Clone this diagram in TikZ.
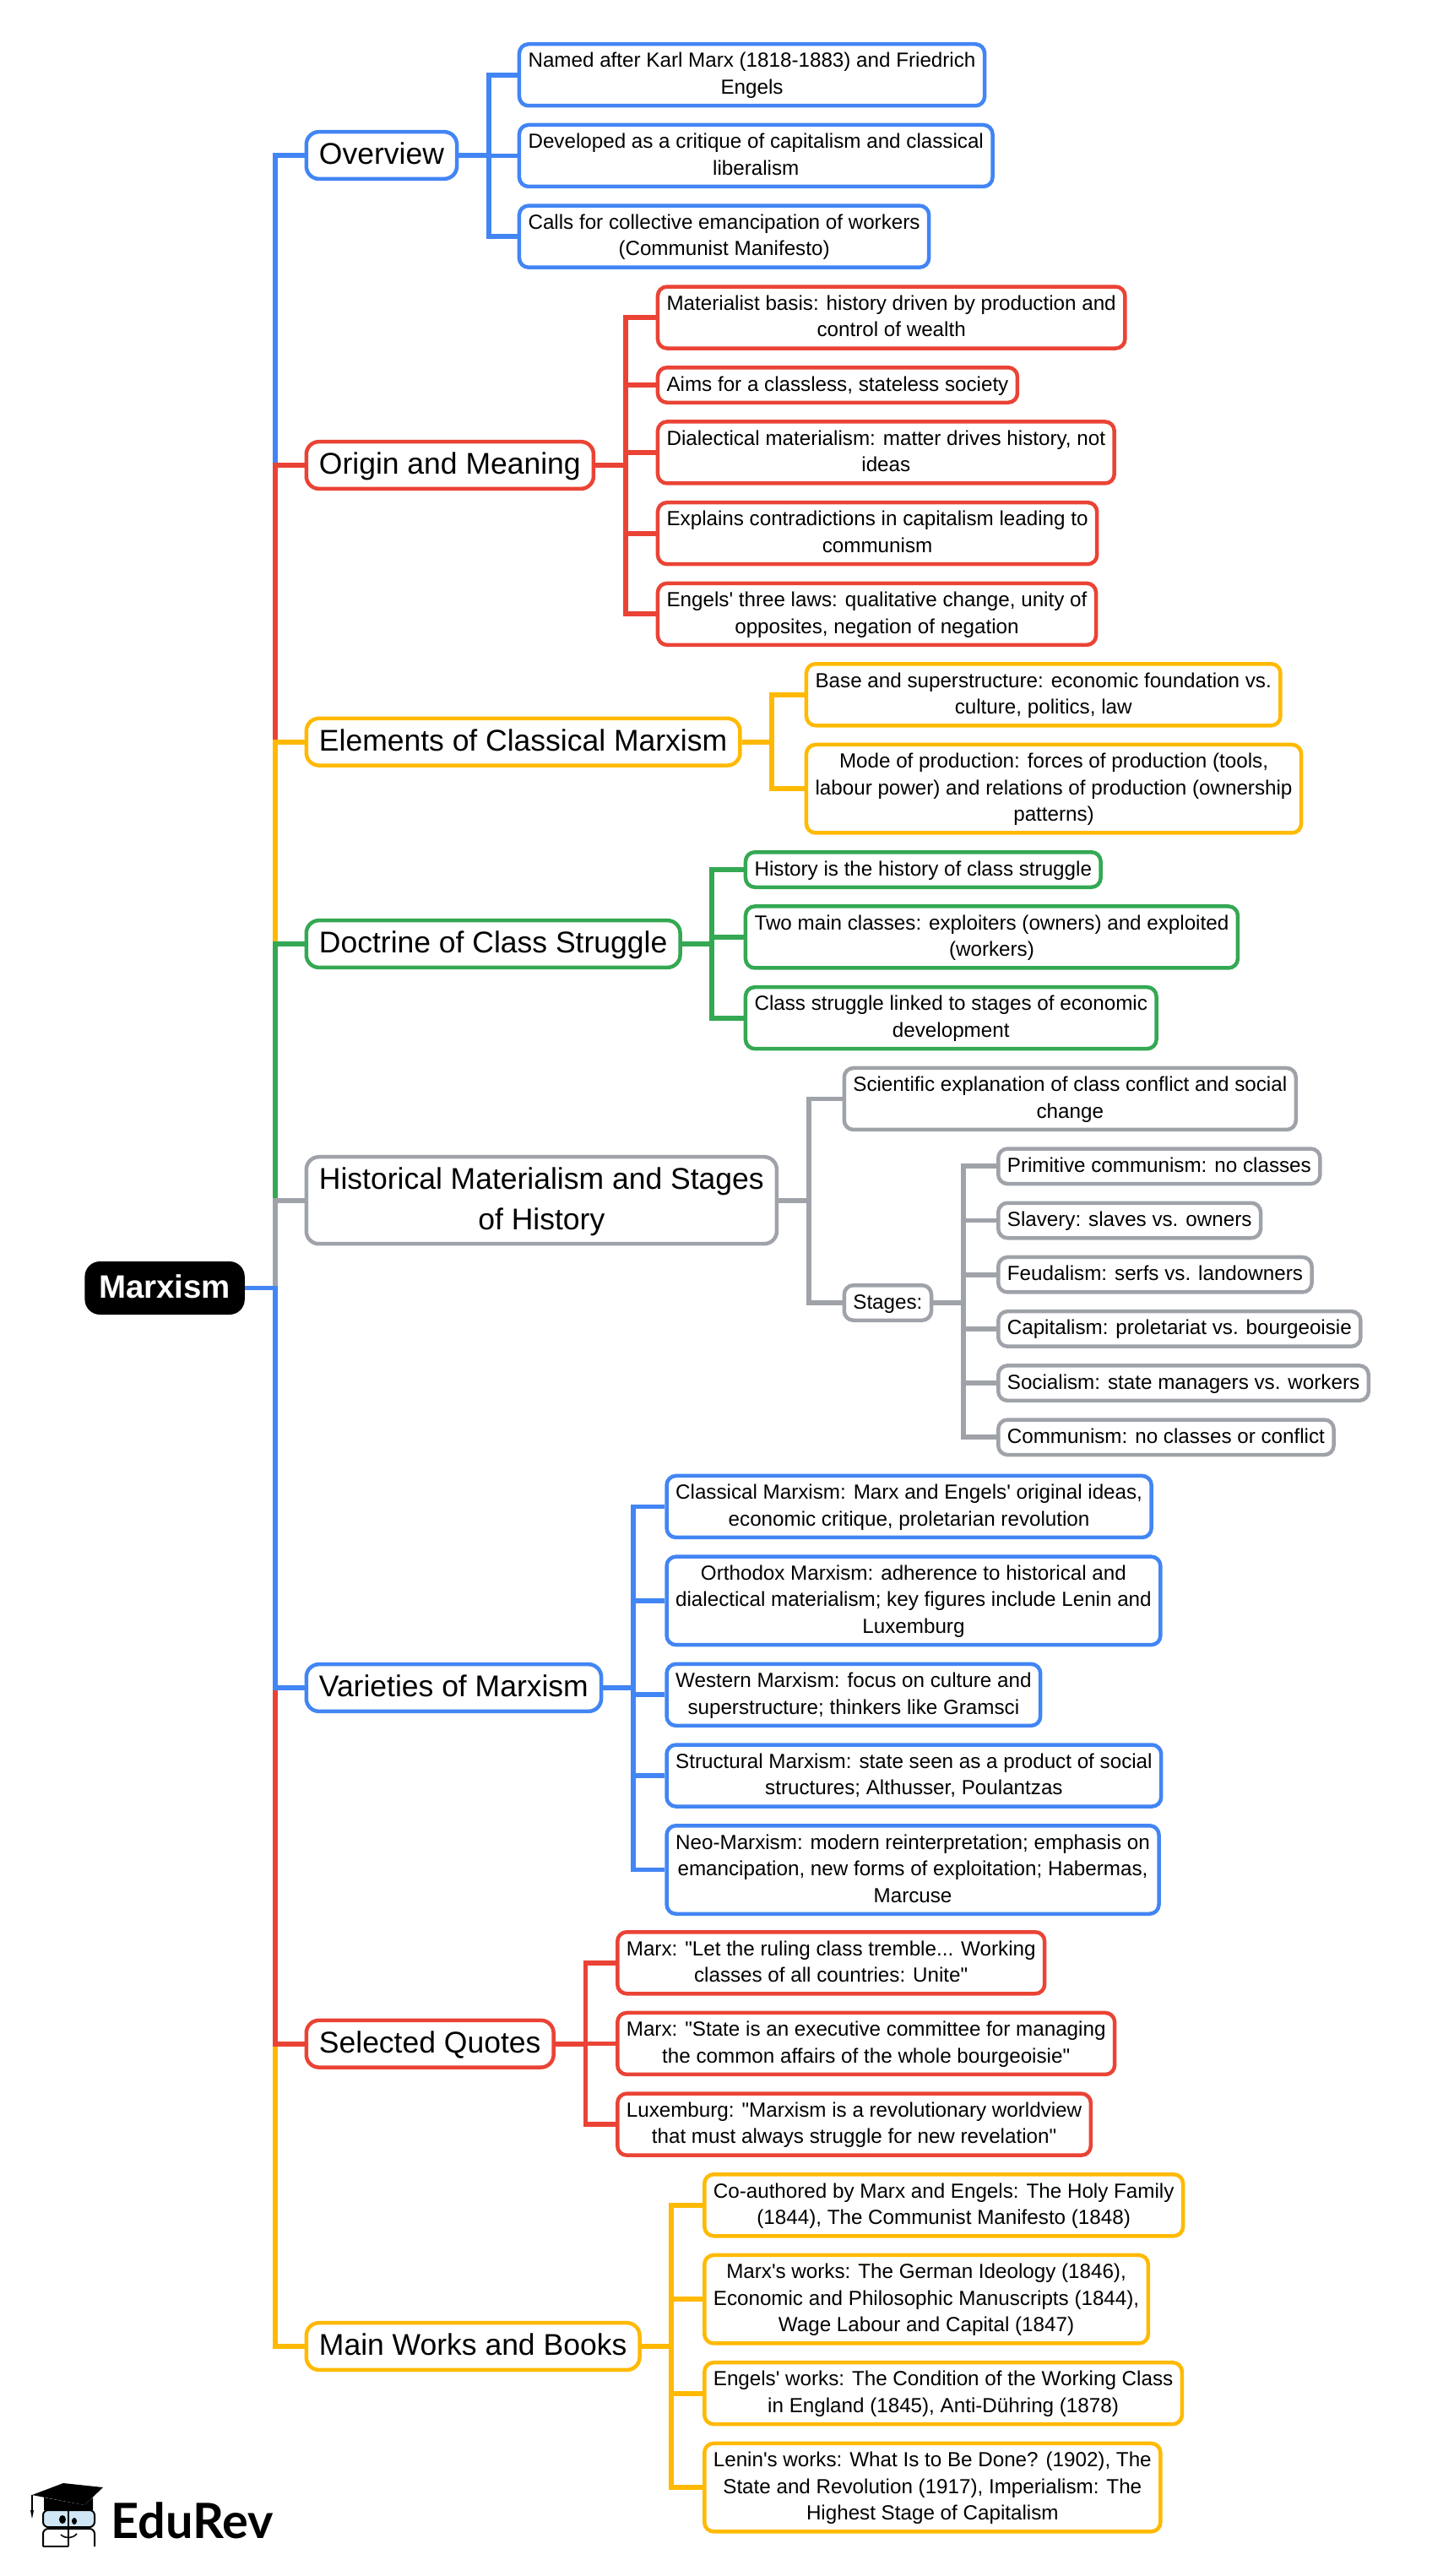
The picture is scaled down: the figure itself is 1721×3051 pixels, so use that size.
\documentclass[tikz,border=0pt]{standalone}
\usepackage{fontspec}
\usepackage{xcolor}
\usetikzlibrary{positioning}
\newfontfamily\mapfont{Liberation Sans}
\newfontfamily\logofont{Lato}
\definecolor{colorB}{HTML}{4285F4}
\definecolor{colorR}{HTML}{EA4335}
\definecolor{colorY}{HTML}{FFB900}
\definecolor{colorG}{HTML}{34A853}
\definecolor{colorN}{HTML}{9FA3A9}
\definecolor{colorGlass}{HTML}{CFE6F6}

\begin{document}
\begin{tikzpicture}[x=0.5pt,y=-0.5pt,node distance=9.1pt,align=center,
  box/.style={draw,rounded corners=5.5pt,line width=2.25pt,fill=white,text=black,inner ysep=2.125pt,inner xsep=5.3pt,anchor=north west,font=\mapfont\fontsize{12.1}{15.75}\selectfont,text height=11.75pt,text depth=4.75pt},
  two/.style={text height=27.5pt},
  three/.style={text height=43.25pt},
  topic/.style={draw,rounded corners=7.5pt,line width=2.25pt,fill=white,text=black,inner ysep=3.125pt,inner xsep=7.6pt,anchor=west,font=\mapfont\fontsize{17.75}{23.65}\selectfont,text height=16.25pt,text depth=5.35pt},
  root/.style={fill=black,text=white,rounded corners=9pt,inner ysep=3pt,inner xsep=8.4pt,anchor=west,font=\mapfont\bfseries\fontsize{19.2}{23.65}\selectfont,text height=18.85pt,text depth=6.65pt},
  under/.style={below=of #1.south west,anchor=north west},
  wire/.style={line width=2.9pt},
  elbow/.style={to path={-- ++(17.8pt,0) |- (\tikztotarget)}},
  ]
  \useasboundingbox (0,0) rectangle (1721,3051);

  % centre and first level
  \node [root] (M) at (100,1525.5) {Marxism};
  \node [topic, draw=colorB] (Ov) at (360.5,184) {Overview};
  \node [topic, draw=colorR] (Or) at (360.5,551) {Origin and Meaning};
  \node [topic, draw=colorY] (El) at (360.5,878.7) {Elements of Classical Marxism};
  \node [topic, draw=colorG] (Dc) at (360.5,1118) {Doctrine of Class Struggle};
  \node [topic, draw=colorN, text height=39.9pt] (Hm) at (360.5,1421.7) {Historical Materialism and Stages\\of History};
  \node [topic, draw=colorB] (Va) at (360.5,1999) {Varieties of Marxism};
  \node [topic, draw=colorR] (Qu) at (360.5,2420.7) {Selected Quotes};
  \node [topic, draw=colorY] (Wk) at (360.5,2779) {Main Works and Books};

  % overview
  \node [box, two, draw=colorB] (Ov1) at (612.7,50) {Named after Karl Marx (1818-1883) and Friedrich\\Engels};
  \node [box, two, draw=colorB, under=Ov1] (Ov2) {Developed as a critique of capitalism and classical\\liberalism};
  \node [box, two, draw=colorB, under=Ov2] (Ov3) {Calls for collective emancipation of workers\\(Communist Manifesto)};

  % origin
  \node [box, two, draw=colorR] (Or1) at (776.7,337.3) {Materialist basis: history driven by production and\\control of wealth};
  \node [box, draw=colorR, under=Or1] (Or2) {Aims for a classless, stateless society};
  \node [box, two, draw=colorR, under=Or2] (Or3) {Dialectical materialism: matter drives history, not\\ideas};
  \node [box, two, draw=colorR, under=Or3] (Or4) {Explains contradictions in capitalism leading to\\communism};
  \node [box, two, draw=colorR, under=Or4] (Or5) {Engels' three laws: qualitative change, unity of\\opposites, negation of negation};

  % elements
  \node [box, two, draw=colorY] (El1) at (952.7,784) {Base and superstructure: economic foundation vs.\\culture, politics, law};
  \node [box, three, draw=colorY, under=El1] (El2) {Mode of production: forces of production (tools,\\labour power) and relations of production (ownership\\patterns)};

  % doctrine
  \node [box, draw=colorG] (Dc1) at (880.7,1007) {History is the history of class struggle};
  \node [box, two, draw=colorG, under=Dc1] (Dc2) {Two main classes: exploiters (owners) and exploited\\(workers)};
  \node [box, two, draw=colorG, under=Dc2] (Dc3) {Class struggle linked to stages of economic\\development};

  % historical materialism
  \node [box, two, draw=colorN] (Hm1) at (997.5,1262.7) {Scientific explanation of class conflict and social\\change};
  \node [box, draw=colorN] (Hm2) at (997.5,1520) {Stages:};
  \node [box, draw=colorN] (St1) at (1180,1358.3) {Primitive communism: no classes};
  \node [box, draw=colorN, under=St1] (St2) {Slavery: slaves vs. owners};
  \node [box, draw=colorN, under=St2] (St3) {Feudalism: serfs vs. landowners};
  \node [box, draw=colorN, under=St3] (St4) {Capitalism: proletariat vs. bourgeoisie};
  \node [box, draw=colorN, under=St4] (St5) {Socialism: state managers vs. workers};
  \node [box, draw=colorN, under=St5] (St6) {Communism: no classes or conflict};

  % varieties
  \node [box, two, draw=colorB] (Va1) at (787.3,1745.7) {Classical Marxism: Marx and Engels' original ideas,\\economic critique, proletarian revolution};
  \node [box, three, draw=colorB, under=Va1] (Va2) {Orthodox Marxism: adherence to historical and\\dialectical materialism; key figures include Lenin and\\Luxemburg};
  \node [box, two, draw=colorB, under=Va2] (Va3) {Western Marxism: focus on culture and\\superstructure; thinkers like Gramsci};
  \node [box, two, draw=colorB, under=Va3] (Va4) {Structural Marxism: state seen as a product of social\\structures; Althusser, Poulantzas};
  \node [box, three, draw=colorB, under=Va4] (Va5) {Neo-Marxism: modern reinterpretation; emphasis on\\emancipation, new forms of exploitation; Habermas,\\Marcuse};

  % quotes
  \node [box, two, draw=colorR] (Qu1) at (729,2286) {Marx: "Let the ruling class tremble... Working\\classes of all countries: Unite"};
  \node [box, two, draw=colorR, under=Qu1] (Qu2) {Marx: "State is an executive committee for managing\\the common affairs of the whole bourgeoisie"};
  \node [box, two, draw=colorR, under=Qu2] (Qu3) {Luxemburg: "Marxism is a revolutionary worldview\\that must always struggle for new revelation"};

  % works
  \node [box, two, draw=colorY] (Wk1) at (832,2573) {Co-authored by Marx and Engels: The Holy Family\\(1844), The Communist Manifesto (1848)};
  \node [box, three, draw=colorY, under=Wk1] (Wk2) {Marx's works: The German Ideology (1846),\\Economic and Philosophic Manuscripts (1844),\\Wage Labour and Capital (1847)};
  \node [box, two, draw=colorY, under=Wk2] (Wk3) {Engels' works: The Condition of the Working Class\\in England (1845), Anti-D\"uhring (1878)};
  \node [box, three, draw=colorY, under=Wk3] (Wk4) {Lenin's works: What Is to Be Done? (1902), The\\State and Revolution (1917), Imperialism: The\\Highest Stage of Capitalism};

  % connectors, later ones lie over the earlier ones on the trunk
  \path[wire, colorB] (M.east) edge [elbow] (Ov.west);
  \path[wire, colorR] (M.east) edge [elbow] (Or.west);
  \path[wire, colorY] (M.east) edge [elbow] (El.west);
  \path[wire, colorG] (M.east) edge [elbow] (Dc.west);
  \path[wire, colorN] (M.east) edge [elbow] (Hm.west);
  \path[wire, colorY] (M.east) edge [elbow] (Wk.west);
  \path[wire, colorR] (M.east) edge [elbow] (Qu.west);
  \path[wire, colorB] (M.east) edge [elbow] (Va.west);

  \path[wire, colorB] (Ov.east) edge [elbow] (Ov1.west) edge [elbow] (Ov2.west) edge [elbow] (Ov3.west);
  \path[wire, colorR] (Or.east) edge [elbow] (Or1.west) edge [elbow] (Or2.west) edge [elbow] (Or3.west) edge [elbow] (Or4.west) edge [elbow] (Or5.west);
  \path[wire, colorY] (El.east) edge [elbow] (El1.west) edge [elbow] (El2.west);
  \path[wire, colorG] (Dc.east) edge [elbow] (Dc1.west) edge [elbow] (Dc2.west) edge [elbow] (Dc3.west);
  \path[wire, colorN] (Hm.east) edge [elbow] (Hm1.west) edge [elbow] (Hm2.west);
  \path[wire, colorN] (Hm2.east) edge [elbow] (St1.west) edge [elbow] (St2.west) edge [elbow] (St3.west) edge [elbow] (St4.west) edge [elbow] (St5.west) edge [elbow] (St6.west);
  \path[wire, colorB] (Va.east) edge [elbow] (Va1.west) edge [elbow] (Va2.west) edge [elbow] (Va3.west) edge [elbow] (Va4.west) edge [elbow] (Va5.west);
  \path[wire, colorR] (Qu.east) edge [elbow] (Qu1.west) edge [elbow] (Qu2.west) edge [elbow] (Qu3.west);
  \path[wire, colorY] (Wk.east) edge [elbow] (Wk1.west) edge [elbow] (Wk2.west) edge [elbow] (Wk3.west) edge [elbow] (Wk4.west);

  % logo
  \node [anchor=west, inner sep=0pt, font=\logofont\bfseries\fontsize{28.8}{30}\selectfont] (logo) at (131,2985) {EduRev};
  \fill (38,2955) -- (75,2941) -- (122,2946) -- (100,2967) -- cycle;
  \fill (52,2958) -- (100,2967) -- (110,2958) -- (110,2973) -- (52,2973) -- cycle;
  \draw [line width=.6pt] (38,2955) -- (38,2974);
  \fill (36,2973) -- (40,2973) -- (38,2983) -- cycle;
  \draw [line width=1pt, fill=colorGlass, rounded corners=3pt] (51,2973) rectangle (112,2993);
  \draw [line width=1pt, rounded corners=3pt] (51,3016) -- (51,2995) -- (112,2995) -- (112,3016);
  \draw [line width=1pt] (51,3016) -- (81,3016) (81,2968) -- (81,3016);
  \fill (74,2984) ellipse [x radius=4, y radius=5];
  \fill (88,2986) ellipse [x radius=3, y radius=4];
  \draw [line width=.8pt] (72,3002) .. controls (78,3007) and (85,3007) .. (91,3001);
\end{tikzpicture}
\end{document}
